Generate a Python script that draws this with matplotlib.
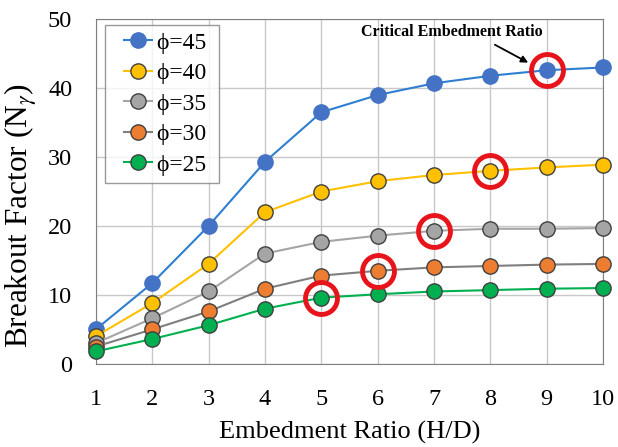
import matplotlib.pyplot as plt
from matplotlib.lines import Line2D
from matplotlib.legend_handler import HandlerLine2D

# embedment ratio H/D
ratio = [1, 2, 3, 4, 5, 6, 7, 8, 9, 10]

# breakout factor per friction angle
phi45 = [5.0, 11.7, 20.0, 29.3, 36.5, 39.0, 40.7, 41.8, 42.6, 43.0]
phi40 = [4.0, 8.8, 14.5, 22.0, 25.0, 26.5, 27.4, 28.0, 28.5, 28.9]
phi35 = [3.0, 6.6, 10.5, 16.0, 17.7, 18.6, 19.3, 19.6, 19.6, 19.7]
phi30 = [2.5, 5.0, 7.6, 10.9, 12.8, 13.5, 14.0, 14.2, 14.4, 14.5]
phi25 = [1.8, 3.6, 5.6, 8.0, 9.6, 10.1, 10.5, 10.7, 10.9, 11.0]

labels = ['ϕ=45', 'ϕ=40', 'ϕ=35', 'ϕ=30', 'ϕ=25']

# critical points (circled)
crit_x = [9, 8, 7, 6, 5]
crit_y = [42.6, 28.0, 19.3, 13.5, 9.6]

plt.rcParams['font.family'] = ['Liberation Serif', 'DejaVu Serif']
plt.rcParams['mathtext.fontset'] = 'stix'

fig = plt.figure(figsize=(6.18, 4.47), dpi=100)
ax = fig.add_axes([0.155, 0.186, 0.821, 0.771])

series = [phi45, phi40, phi35, phi30, phi25]
line_cols = ['#2f7fd0', '#ffc000', '#a5a5a5', '#7f7f7f', '#00b050']
face_cols = ['#4472c4', '#ffc000', '#a5a5a5', '#ed7d31', '#00b050']
edge_cols = ['#4472c4', '#404040', '#404040', '#404040', '#404040']

for ys, lab, lc, fc, ec in zip(series, labels, line_cols, face_cols, edge_cols):
    ax.plot(ratio, ys, '-o', color=lc, lw=1.5, ms=11, mfc=fc, mec=ec,
            mew=1.0, label=lab + ' ', clip_on=False, zorder=3)

ax.plot(crit_x, crit_y, 'o', ms=23, mfc='none', mec='#e8141c', mew=3.5,
        zorder=4, clip_on=False)

ax.text(7.32, 48.1, 'Critical Embedment Ratio', fontsize=11.5,
        fontweight='bold', ha='center', va='center')
ax.annotate('', xy=(8.67, 43.7), xytext=(8.08, 46.3),
            arrowprops=dict(arrowstyle='-|>', color='black', lw=1.3,
                            shrinkA=0, shrinkB=0, mutation_scale=10))

ax.set_xlim(1, 10)
ax.set_ylim(0, 50)
ax.set_xticks(ratio)
ax.set_yticks([0, 10, 20, 30, 40, 50])
ax.grid(True, color='#c8c8c8', lw=1.0)
ax.set_axisbelow(True)
for s in ax.spines.values():
    s.set_color('#808080')
ax.tick_params(labelsize=17.5, length=0)
ax.tick_params(axis='x', pad=18)
ax.tick_params(axis='y', pad=17)
ax.set_xlabel('Embedment Ratio (H/D)', fontsize=19, labelpad=8)
ax.set_ylabel('Breakout Factor (N$_\\gamma$)', fontsize=22.5)
ax.yaxis.set_label_coords(-0.11, 0.43)

leg = ax.legend(loc='upper left', bbox_to_anchor=(0.018, 0.983), fontsize=17,
                frameon=True, fancybox=False, handlelength=1.7,
                handletextpad=0.2, labelspacing=0.38, borderaxespad=0.0,
                borderpad=0.3,
                handler_map={Line2D: HandlerLine2D(xpad=0.5)})
leg.get_frame().set_edgecolor('#808080')
leg.get_frame().set_linewidth(1.0)

fig.savefig('out.png', dpi=100)
